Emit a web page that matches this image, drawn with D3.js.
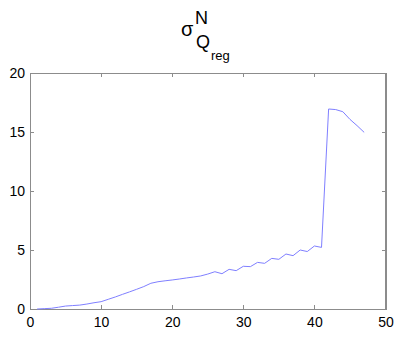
<!DOCTYPE html>
<html>
<head>
<meta charset="utf-8">
<script src="https://cdn.jsdelivr.net/npm/d3@7"></script>
<style>
  body { margin: 0; background: #fff; }
  svg { display: block; font-family: "Liberation Sans", Arial, sans-serif; }
</style>
</head>
<body>
<div id="chart"></div>
<script>
const width = 395;
const height = 338;

// data
const xs = [1, 2, 3, 4, 5, 6, 7, 8, 9, 10, 11, 12, 13, 14, 15, 16, 17, 18, 19, 20,
  21, 22, 23, 24, 25, 26, 27, 28, 29, 30, 31, 32, 33, 34, 35, 36, 37, 38, 39, 40,
  41, 42, 43, 44, 45, 46, 47];
const ys = [0.0, 0.03, 0.06, 0.15, 0.25, 0.29, 0.33, 0.42, 0.53, 0.62, 0.82, 1.02, 1.24, 1.45, 1.67, 1.9, 2.18, 2.31, 2.39, 2.46,
  2.54, 2.63, 2.71, 2.8, 2.96, 3.16, 2.99, 3.36, 3.25, 3.62, 3.59, 3.95, 3.87, 4.29, 4.21, 4.66, 4.52, 5.0, 4.87, 5.34,
  5.22, 16.95, 16.9, 16.72, 16.07, 15.54, 14.97];
const xTicks = [0, 10, 20, 30, 40, 50];
const yTicks = [0, 5, 10, 15, 20];

const mLeft = 30, mRight = 385.5, mTop = 73, mBottom = 309;

const svg = d3.select('#chart')
  .append('svg')
  .attr('width', width)
  .attr('height', height)

const xScale = d3.scaleLinear().domain([0, 50]).range([mLeft, mRight])
const yScale = d3.scaleLinear().domain([0, 20]).range([mBottom, mTop])

const axisColor = '#8c8c8c';

// axes (MATLAB style: ticks inside, box all round)
const xAxis = d3.axisBottom(xScale).tickValues(xTicks).tickSize(-4).tickSizeOuter(0).tickPadding(8)
const yAxis = d3.axisLeft(yScale).tickValues(yTicks).tickSize(-4).tickSizeOuter(0).tickPadding(5)

svg.append('g')
  .attr('transform', `translate(0, ${mBottom})`)
  .call(xAxis)
svg.append('g')
  .attr('transform', `translate(${mLeft}, 0)`)
  .call(yAxis)

// top and right ticks
svg.append('g')
  .attr('transform', `translate(0, ${mTop})`)
  .call(d3.axisTop(xScale).tickValues(xTicks).tickSize(-4).tickSizeOuter(0).tickFormat(''))
svg.append('g')
  .attr('transform', `translate(${mRight}, 0)`)
  .call(d3.axisRight(yScale).tickValues(yTicks).tickSize(-4).tickSizeOuter(0).tickFormat(''))

svg.selectAll('.domain, .tick line')
  .attr('stroke', axisColor)
  .attr('shape-rendering', 'crispEdges')

svg.selectAll('.tick text')
  .attr('fill', '#000')
  .style('font-size', '14px')
  .style('font-family', '"Liberation Sans", Arial, sans-serif')

svg.append('rect')
  .attr('x', mLeft)
  .attr('y', mTop)
  .attr('width', mRight - mLeft)
  .attr('height', mBottom - mTop)
  .attr('fill', 'none')
  .attr('stroke', axisColor)
  .attr('shape-rendering', 'crispEdges')

// line
const line = d3.line()
  .x((d, i) => xScale(xs[i]))
  .y(d => yScale(d))

svg.append('path')
  .datum(ys)
  .attr('d', line)
  .attr('fill', 'none')
  .attr('stroke', '#7f7fff')
  .attr('stroke-width', 1)

// title: sigma^N_{Q_reg}
const title = svg.append('g')
  .style('font-family', '"Liberation Sans", Arial, sans-serif')
  .attr('fill', '#000')

title.append('text')
  .attr('x', 181)
  .attr('y', 36)
  .style('font-size', '20px')
  .text('σ')
title.append('text')
  .attr('x', 195)
  .attr('y', 24)
  .style('font-size', '18px')
  .text('N')
title.append('text')
  .attr('x', 196)
  .attr('y', 48)
  .style('font-size', '18px')
  .text('Q')
title.append('text')
  .attr('x', 211)
  .attr('y', 60)
  .style('font-size', '13px')
  .text('reg')
</script>
</body>
</html>
